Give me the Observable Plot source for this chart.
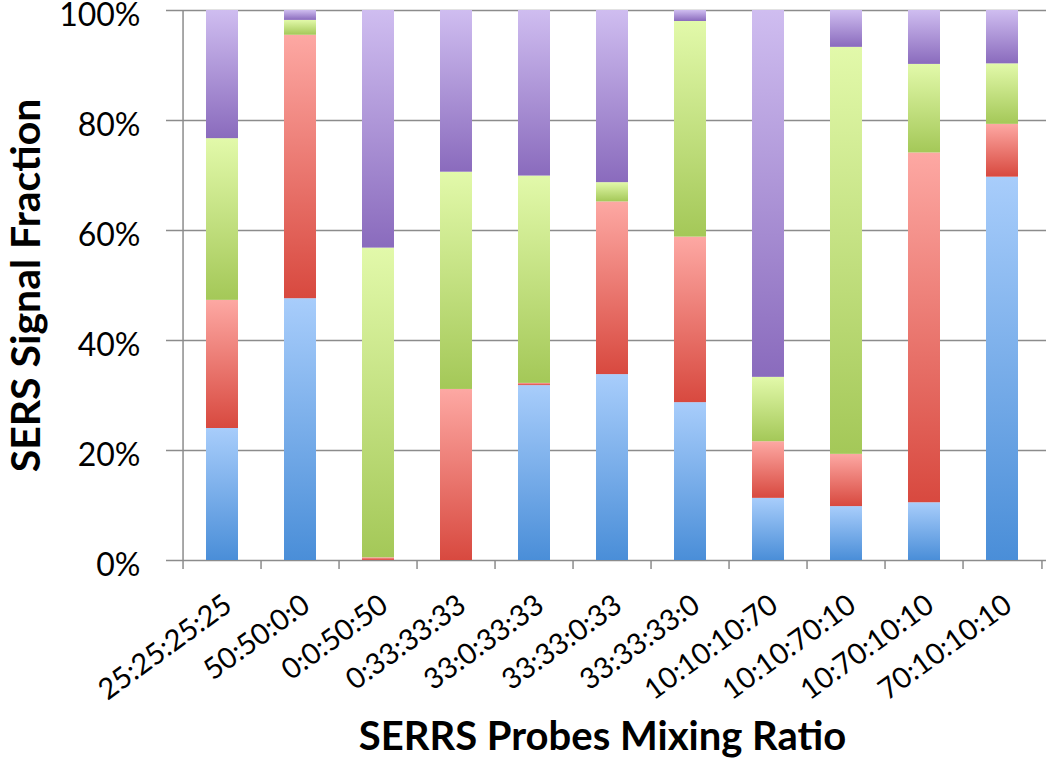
<!DOCTYPE html>
<html>
<head>
<meta charset="utf-8">
<script src="https://cdn.jsdelivr.net/npm/d3@7"></script>
<script src="https://cdn.jsdelivr.net/npm/@observablehq/plot@0.6"></script>
<style>
  html, body { margin: 0; padding: 0; background: #fff; }
  #chart { width: 1050px; height: 768px; }
</style>
</head>
<body>
<div id="chart"></div>
<script>
// ---- data ----
const categories = ["25:25:25:25", "50:50:0:0", "0:0:50:50", "0:33:33:33", "33:0:33:33", "33:33:0:33",
                    "33:33:33:0", "10:10:10:70", "10:10:70:10", "10:70:10:10", "70:10:10:10"];
const seriesNames = ["Probe 1", "Probe 2", "Probe 3", "Probe 4"];
const probe1 = [24.0, 47.6,  0.0,  0.0, 31.8, 33.8, 28.7, 11.3,  9.8, 10.5, 69.7]; // blue
const probe2 = [23.3, 47.9,  0.5, 31.1,  0.4, 31.4, 30.1, 10.3,  9.5, 63.6,  9.6]; // red
const probe3 = [29.4,  2.7, 56.3, 39.5, 37.7,  3.5, 39.2, 11.7, 74.0, 16.1, 11.0]; // green
const probe4 = [23.3,  1.8, 43.2, 29.4, 30.1, 31.3,  2.0, 66.7,  6.7,  9.8,  9.7]; // purple
const yTicks = [0, 20, 40, 60, 80, 100];
const yTitle = "SERS Signal Fraction";
const xTitle = "SERRS Probes Mixing Ratio";

const seriesValues = [probe1, probe2, probe3, probe4];
const table = [];
categories.forEach((c, i) => {
  seriesNames.forEach((s, k) => table.push({cat: c, series: s, value: seriesValues[k][i]}));
});

// gradient fills (light at top, dark at bottom)
const gradientStops = [
  ["#a8cdfb", "#4a8ed8"],
  ["#fda8a3", "#d8493f"],
  ["#e2f9aa", "#a4c858"],
  ["#cfbdf0", "#8a6bbd"]
];

const W = 1050, H = 768;
const mL = 178, mR = 4, mT = 10, mB = 208;
const step = (W - mL - mR) / categories.length;
const gridColor = "#8c8c8c";
const font = "Lato, 'Open Sans', sans-serif";

const plot = Plot.plot({
  width: W,
  height: H,
  marginLeft: mL,
  marginRight: mR,
  marginTop: mT,
  marginBottom: mB,
  style: {fontFamily: font, color: "#000", background: "#fff", overflow: "visible"},
  x: {domain: categories, paddingInner: 0.594, paddingOuter: 0.297, label: null},
  y: {domain: [0, 100], ticks: yTicks, label: null},
  color: {type: "ordinal", domain: seriesNames, range: seriesNames.map((s, k) => `url(#grad-${k})`)},
  marks: [
    // horizontal gridlines (extend left as tick marks)
    Plot.ruleY(yTicks, {stroke: gridColor, strokeWidth: 1.5, insetLeft: -12}),
    // stacked bars
    Plot.barY(table, Plot.stackY({x: "cat", y: "value", fill: "series", order: seriesNames})),
    // y axis line (extends below as first x tick)
    Plot.ruleX([categories[0]], {x: d => d, y1: 0, y2: 100, insetTop: 9, dx: -step / 2, stroke: gridColor, strokeWidth: 1.5}),
    // x ticks at category boundaries
    Plot.ruleX(categories.slice(1), {x: d => d, y1: 0, y2: 0, insetTop: 9, dx: -step / 2, stroke: gridColor, strokeWidth: 1.5}),
    Plot.ruleX([categories[categories.length - 1]], {x: d => d, y1: 0, y2: 0, insetTop: 9, dx: step / 2, stroke: gridColor, strokeWidth: 1.5}),
    // axes
    Plot.axisY({ticks: yTicks, tickSize: 0, tickPadding: 38, tickFormat: d => d + "%", fontSize: 32, dy: 5, label: null}),
    Plot.axisX({tickSize: 0, tickPadding: 41, tickRotate: -36, fontSize: 29, textAnchor: "end", lineAnchor: "middle", dx: 6, label: null}),
    // axis titles
    Plot.text([yTitle], {text: d => d, frameAnchor: "left", textAnchor: "middle", lineAnchor: "middle", dx: -152, rotate: -90, fontSize: 41, fontWeight: "bold", fill: "#000"}),
    Plot.text([xTitle], {text: d => d, frameAnchor: "bottom", textAnchor: "middle", lineAnchor: "middle", dy: 177, dx: -10, fontSize: 40, fontWeight: "bold", fill: "#000"})
  ]
});

// add gradient definitions
const ns = "http://www.w3.org/2000/svg";
const defs = document.createElementNS(ns, "defs");
gradientStops.forEach(([c0, c1], k) => {
  const g = document.createElementNS(ns, "linearGradient");
  g.setAttribute("id", `grad-${k}`);
  g.setAttribute("x1", "0"); g.setAttribute("y1", "0");
  g.setAttribute("x2", "0"); g.setAttribute("y2", "1");
  [[0, c0], [1, c1]].forEach(([o, c]) => {
    const st = document.createElementNS(ns, "stop");
    st.setAttribute("offset", o);
    st.setAttribute("stop-color", c);
    g.appendChild(st);
  });
  defs.appendChild(g);
});
plot.insertBefore(defs, plot.firstChild);

document.getElementById("chart").appendChild(plot);
</script>
</body>
</html>
